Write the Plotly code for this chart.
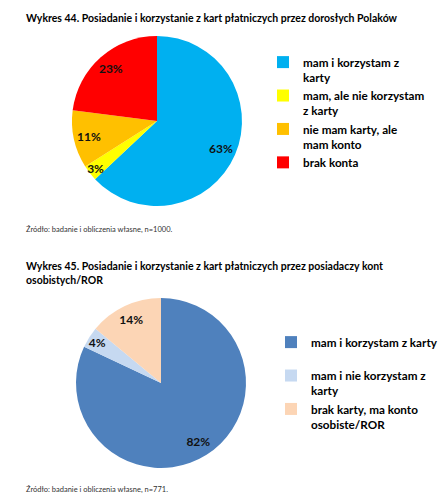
import plotly.graph_objects as go

# Wykres 44
labels_44 = ["mam i korzystam z<br>karty", "mam, ale nie korzystam<br>z karty",
             "nie mam karty, ale<br>mam konto", "brak konta"]
values_44 = [63, 3, 11, 23]
colors_44 = ["#00B0F0", "#FFFF00", "#FFC000", "#FF0000"]

# Wykres 45
labels_45 = ["mam i korzystam z karty<br> ", "mam i nie korzystam z<br>karty",
             "brak karty, ma konto<br>osobiste/ROR"]
values_45 = [82, 4, 14]
colors_45 = ["#4F81BD", "#C6D9F1", "#FCD5B5"]

# the page body has an 8px margin, so the figure is drawn 8px in from the corner
OFF = 8
W, H = 448 - OFF, 500 - OFF
FONT = "Lato"


def px_x(v):
    return (v - OFF) / W


def px_y(v):
    return 1 - (v - OFF) / H


def domain(cx, cy, r):
    return dict(x=[px_x(cx - r), px_x(cx + r)], y=[px_y(cy + r), px_y(cy - r)])


label_font = dict(family=FONT, size=12, color="#111111", weight="bold")

fig = go.Figure()


def add_pie(labels, values, colors, cx, cy, r, legend):
    # coloured pie, no text
    fig.add_trace(go.Pie(
        labels=labels, values=values, sort=False, direction="clockwise",
        marker=dict(colors=colors), textinfo="none",
        domain=domain(cx, cy, r), legend=legend, hoverinfo="label+value",
    ))
    # transparent ring on top carrying the percentage labels near the rim
    fig.add_trace(go.Pie(
        labels=labels, values=values, sort=False, direction="clockwise", hole=0.64,
        marker=dict(colors=["rgba(0,0,0,0)"] * len(values), line=dict(width=0)),
        texttemplate="%{value}%", textposition="inside", insidetextorientation="horizontal",
        textfont=label_font, insidetextfont=label_font,
        domain=domain(cx, cy, r), showlegend=False, hoverinfo="skip",
    ))


add_pie(labels_44, values_44, colors_44, 157, 121, 85, "legend")
add_pie(labels_45, values_45, colors_45, 161, 383, 85, "legend2")

legend_style = dict(font=dict(family=FONT, size=11.7, color="black", weight="bold"),
                    bgcolor="rgba(0,0,0,0)", itemclick=False, itemdoubleclick=False,
                    xanchor="left", yanchor="top", valign="top")

fig.update_layout(
    width=W, height=H,
    margin=dict(l=0, r=0, t=0, b=0),
    paper_bgcolor="white", plot_bgcolor="white",
    uniformtext=dict(minsize=12, mode="show"),
    legend=dict(x=px_x(263), y=px_y(48), **legend_style),
    legend2=dict(x=px_x(271), y=px_y(328), **legend_style),
    annotations=[
        dict(text="<b>Wykres 44. Posiadanie i korzystanie z kart płatniczych przez dorosłych Polaków</b>",
             x=px_x(24), y=px_y(18), xref="paper", yref="paper", xanchor="left", yanchor="middle",
             showarrow=False, font=dict(family=FONT, size=10.5, color="black")),
        dict(text="Źródło: badanie i obliczenia własne, n=1000.",
             x=px_x(24), y=px_y(229), xref="paper", yref="paper", xanchor="left", yanchor="middle",
             showarrow=False, font=dict(family=FONT, size=7.5, color="#333333")),
        dict(text="<b>Wykres 45. Posiadanie i korzystanie z kart płatniczych przez posiadaczy kont<br>osobistych/ROR</b>",
             x=px_x(24), y=px_y(273), xref="paper", yref="paper", xanchor="left", yanchor="middle",
             align="left", showarrow=False, font=dict(family=FONT, size=10.5, color="black")),
        dict(text="Źródło: badanie i obliczenia własne, n=771.",
             x=px_x(24), y=px_y(489), xref="paper", yref="paper", xanchor="left", yanchor="middle",
             showarrow=False, font=dict(family=FONT, size=7.5, color="#333333")),
    ],
)

fig.write_html("out.html")
